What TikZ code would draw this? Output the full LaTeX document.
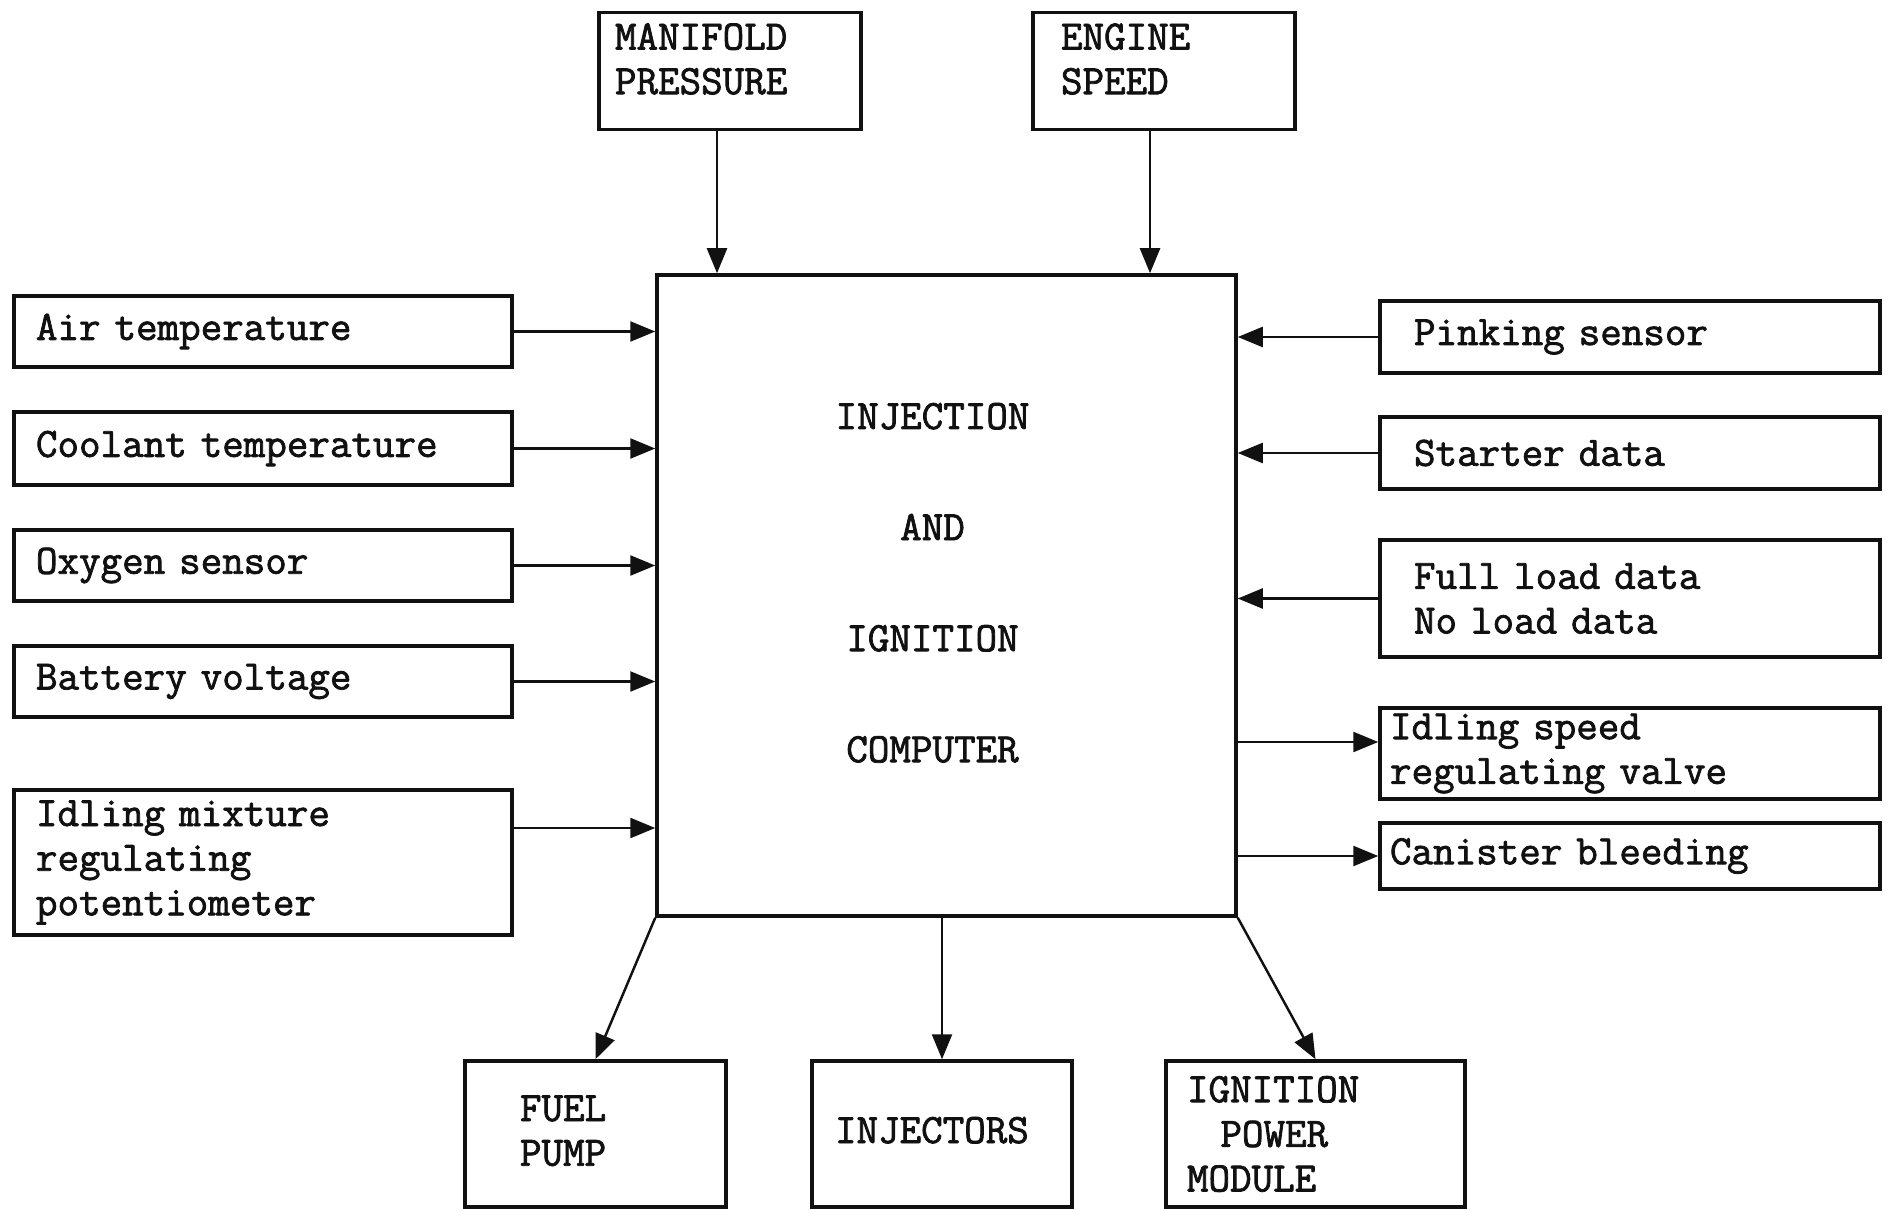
\documentclass[tikz,border=0pt]{standalone}
\usepackage{fontspec}
\usepackage{tikz}
\usetikzlibrary{arrows.meta,positioning,calc}
\newfontfamily\printfont[FakeBold=1.8]{Latin Modern Mono}
\definecolor{ECUInk}{HTML}{111111}
\tikzset{
  box/.style={draw=ECUInk,line width=1pt,inner ysep=0pt,align=left,text=ECUInk,
              font=\printfont\fontsize{11.9}{12.7}\selectfont},
  feed/.style={draw=ECUInk,line width=0.7pt,-{Triangle[length=2.5mm,width=2mm]}}
}
\begin{document}
\begin{tikzpicture}
    \useasboundingbox (0,0) rectangle (18.89,12.09);
    % Computer
    \node[box,align=center,text width=5.79cm,inner xsep=0pt,text height=1.54cm,text depth=4.87cm,
          font=\printfont\fontsize{11.9}{31.6}\selectfont] (cpu) at (9.465,6.135)
      {\hspace*{-0.28cm}INJECTION\\\hspace*{-0.28cm}AND\\\hspace*{-0.28cm}IGNITION\\\hspace*{-0.28cm}COMPUTER};
    % Top inputs
    \node[box,text width=2.30cm,inner xsep=0.16cm,text height=0.37cm,text depth=0.80cm] (manifold) at (7.30,11.38) {MANIFOLD\\PRESSURE};
    \node[box,text width=2.06cm,inner xsep=0.28cm,text height=0.37cm,text depth=0.80cm] (engine)   at (11.64,11.38) {ENGINE\\SPEED};
    % Left inputs
    \node[box,text width=4.54cm,inner xsep=0.22cm,minimum height=0.71cm] (air)     at (2.63,8.775) {Air temperature};
    \node[box,text width=4.54cm,inner xsep=0.22cm,minimum height=0.73cm] (coolant) at (2.63,7.605) {Coolant temperature};
    \node[box,text width=4.54cm,inner xsep=0.22cm,minimum height=0.71cm] (oxygen)  at (2.63,6.435) {Oxygen sensor};
    \node[box,text width=4.54cm,inner xsep=0.22cm,minimum height=0.71cm] (battery) at (2.63,5.275) {Battery voltage};
    \node[box,text width=4.54cm,inner xsep=0.22cm,minimum height=1.45cm] (idlmix)  at (2.63,3.465) {Idling mixture\\regulating\\potentiometer};
    % Right inputs and outputs
    \node[box,text width=4.32cm,inner xsep=0.34cm,minimum height=0.72cm] (pinking)  at (16.30,8.72)  {Pinking sensor};
    \node[box,text width=4.32cm,inner xsep=0.34cm,minimum height=0.72cm] (starter)  at (16.30,7.56)  {Starter data};
    \node[box,text width=4.32cm,inner xsep=0.34cm,minimum height=1.17cm] (fullload) at (16.30,6.105) {Full load data\\No load data};
    \node[box,text width=4.80cm,inner xsep=0.10cm,minimum height=0.91cm] (idlspeed) at (16.30,4.555) {Idling speed\\regulating valve};
    \node[box,text width=4.80cm,inner xsep=0.10cm,minimum height=0.66cm] (canister) at (16.30,3.53)  {Canister bleeding};
    % Bottom outputs
    \node[box,text width=1.51cm,inner xsep=0.55cm,text height=0.60cm,text depth=0.86cm] (fuel)     at (5.955,0.75)  {FUEL\\PUMP};
    \node[box,text width=2.14cm,inner xsep=0.23cm,text height=0.82cm,text depth=0.64cm] (injector) at (9.42,0.75)   {INJECTORS};
    \node[box,text width=2.57cm,inner xsep=0.21cm,minimum height=1.46cm]               (ignpower) at (13.155,0.75) {IGNITION\\\hspace*{0.8em}POWER\\MODULE};
    % Arrows into the computer
    \draw[feed] ([xshift=-0.13cm]manifold.south) -- ([xshift=-0.13cm]manifold.south |- cpu.north);
    \draw[feed] ([xshift=-0.14cm]engine.south) -- ([xshift=-0.14cm]engine.south |- cpu.north);
    \foreach \src in {air,coolant,oxygen,battery}
      \draw[feed] (\src.east) -- (\src.east -| cpu.west);
    \draw[feed] ([yshift=0.345cm]idlmix.east) -- ([yshift=0.345cm]idlmix.east -| cpu.west);
    \foreach \src in {pinking,starter,fullload}
      \draw[feed] (\src.west) -- (\src.west -| cpu.east);
    % Arrows out of the computer
    \draw[feed] ([yshift=0.115cm]idlspeed.west -| cpu.east) -- ([yshift=0.115cm]idlspeed.west);
    \draw[feed] (canister.west -| cpu.east) -- (canister.west);
    \draw[feed] (cpu.south west) -- (fuel.north);
    \draw[feed] (injector.north |- cpu.south) -- (injector.north);
    \draw[feed] (cpu.south east) -- (ignpower.north);
\end{tikzpicture}
\end{document}
